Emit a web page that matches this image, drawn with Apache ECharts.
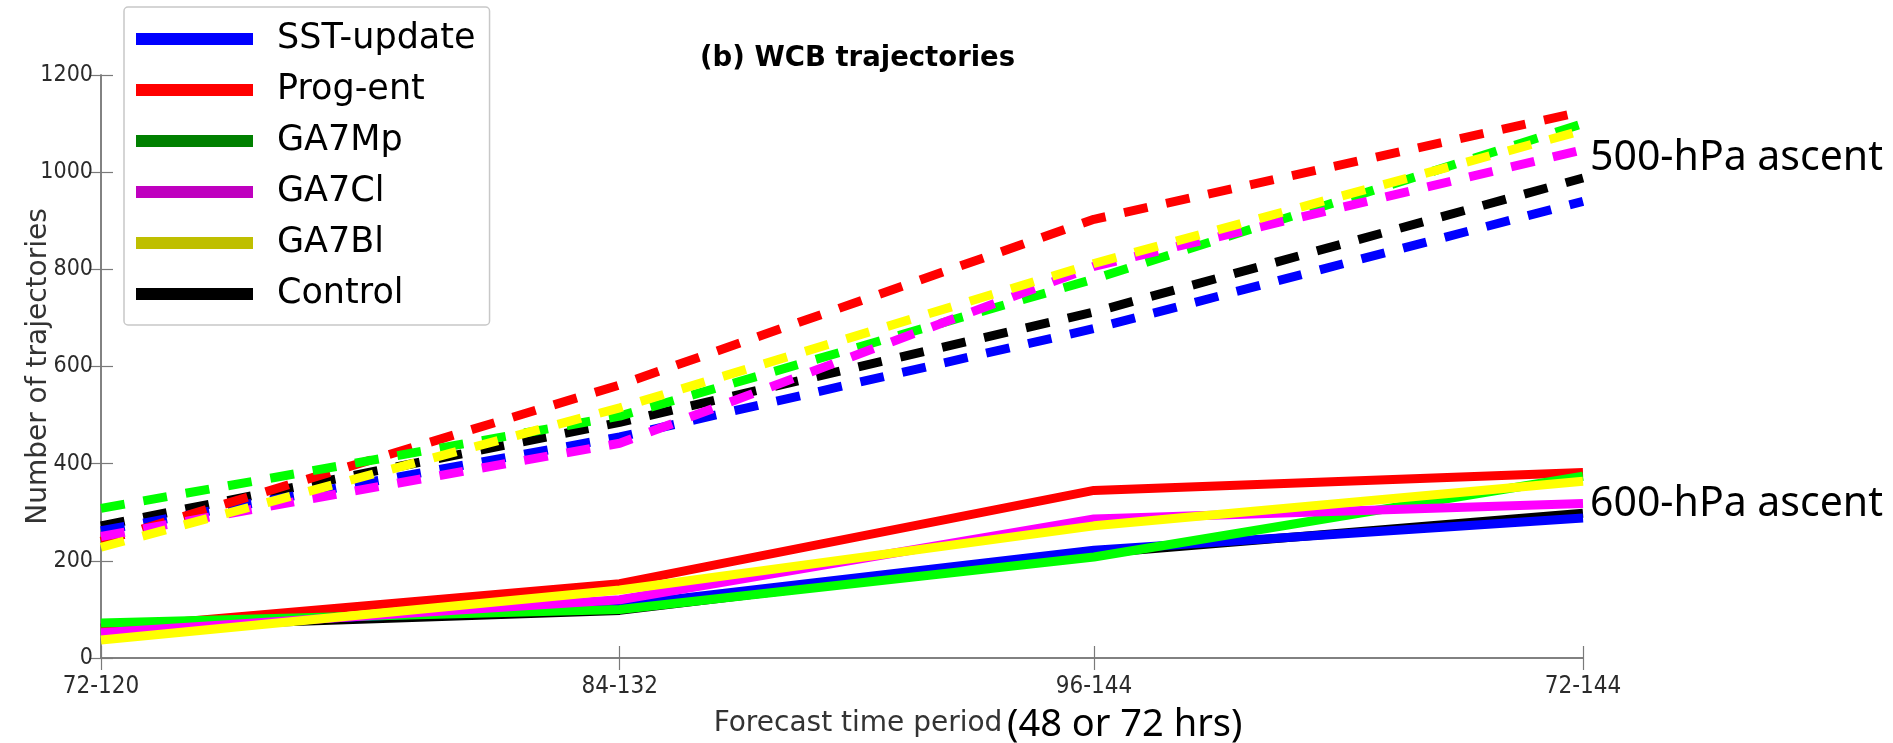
<!DOCTYPE html>
<html>
<head>
<meta charset="utf-8">
<script src="https://cdn.jsdelivr.net/npm/echarts@6/dist/echarts.min.js"></script>
<style>
html,body{margin:0;padding:0;background:#fff;}
#chart{width:1893px;height:743px;}
</style>
</head>
<body>
<div id="chart"></div>
<script>
const categories = ['72-120', '84-132', '96-144', '72-144'];
const xPositions = [0, 1.05, 2.01, 3];
const seriesNames = ['SST-update', 'Prog-ent', 'GA7Mp', 'GA7Cl', 'GA7Bl', 'Control'];
const lineColors = ['#0000FF', '#FF0000', '#00FF00', '#FF00FF', '#FFFF00', '#000000'];
const legendColors = ['#0000FF', '#FF0000', '#008000', '#BF00BF', '#BFBF00', '#000000'];

// 600-hPa ascent (solid)
const sst600 = [62, 108, 222, 288];
const prog600 = [60, 153, 345, 382];
const mp600 = [72, 100, 208, 374];
const cl600 = [52, 120, 286, 318];
const bl600 = [37, 140, 272, 364];
const ctl600 = [62, 98, 215, 298];

// 500-hPa ascent (dashed)
const sst500 = [262, 455, 678, 940];
const prog500 = [240, 562, 903, 1125];
const mp500 = [308, 498, 780, 1100];
const cl500 = [250, 442, 806, 1046];
const bl500 = [228, 515, 812, 1086];
const ctl500 = [272, 485, 712, 988];

const yTicks = [0, 200, 400, 600, 800, 1000, 1200];

const solid = [sst600, prog600, mp600, cl600, bl600, ctl600];
const dashed = [sst500, prog500, mp500, cl500, bl500, ctl500];
const drawOrder = [5, 0, 1, 2, 3, 4];

const toPairs = vals => vals.map((v, j) => [xPositions[j], v]);

const chart = echarts.init(document.getElementById('chart'), null, {renderer: 'canvas'});

const series = [];
drawOrder.forEach((i, k) => {
  series.push({
    name: seriesNames[i], type: 'line', data: toPairs(solid[i]), showSymbol: false, symbol: 'none',
    color: lineColors[i], z: 2 + k,
    lineStyle: {color: lineColors[i], width: 9, type: 'solid'}
  });
});
drawOrder.forEach((i, k) => {
  series.push({
    name: seriesNames[i], type: 'line', data: toPairs(dashed[i]), showSymbol: false, symbol: 'none',
    color: lineColors[i], z: 2 + k,
    lineStyle: {color: lineColors[i], width: 9, type: [24, 19], cap: 'butt'}
  });
});

const tickFont = "'Liberation Sans Narrow', 'DejaVu Sans Condensed', 'DejaVu Sans', sans-serif";
const axisColor = '#7a7a7a';
const catLabel = v => {
  const idx = xPositions.indexOf(v);
  return idx >= 0 ? categories[idx] : '';
};

chart.setOption({
  animation: false,
  backgroundColor: '#ffffff',
  title: {
    text: '(b) WCB trajectories', left: 695, top: 40,
    textStyle: {fontFamily: 'DejaVu Sans', fontWeight: 'bold', fontSize: 27.5, color: '#000'}
  },
  grid: {left: 101, right: 310, top: 75, bottom: 84, containLabel: false},
  legend: {
    orient: 'vertical', left: 124, top: 7, z: 20,
    backgroundColor: '#ffffff', borderColor: '#c8c8c8', borderWidth: 1.5, borderRadius: 4,
    padding: [12, 14, 11, 12],
    itemWidth: 117, itemHeight: 12, itemGap: 11, icon: 'rect',
    textStyle: {fontFamily: 'DejaVu Sans', fontSize: 35, color: '#000', lineHeight: 40, padding: [0, 0, 0, 19]},
    data: seriesNames.map((n, i) => ({name: n, itemStyle: {color: legendColors[i], borderWidth: 0}}))
  },
  xAxis: [{
    type: 'value', min: 0, max: 3, position: 'bottom',
    name: 'Forecast time period', nameLocation: 'middle', nameGap: 52, nameMoveOverlap: false,
    nameTextStyle: {fontFamily: 'DejaVu Sans', fontSize: 28, color: '#333', padding: [0, 0, 0, 32]},
    axisLine: {lineStyle: {color: axisColor, width: 1.5}},
    axisTick: {inside: false, length: -12, customValues: xPositions, lineStyle: {color: axisColor, width: 1.2}},
    axisLabel: {fontFamily: tickFont, fontSize: 24, color: '#2b2b2b', margin: 17,
      customValues: xPositions, formatter: catLabel},
    splitLine: {show: false}
  }, {
    type: 'value', min: 0, max: 3, position: 'top',
    axisLine: {lineStyle: {color: axisColor, width: 1.5}},
    axisTick: {inside: false, length: -12, customValues: xPositions, lineStyle: {color: axisColor, width: 1.2}},
    axisLabel: {show: false}, splitLine: {show: false}
  }],
  yAxis: [{
    type: 'value', min: 0, max: 1200, interval: 200, position: 'left',
    name: 'Number of trajectories', nameLocation: 'middle', nameGap: 48, nameRotate: 90, nameMoveOverlap: false,
    nameTextStyle: {fontFamily: 'DejaVu Sans', fontSize: 28, color: '#333'},
    axisLine: {show: true, lineStyle: {color: axisColor, width: 1.5}},
    axisTick: {show: true, inside: true, length: 12, lineStyle: {color: axisColor, width: 1.2}},
    axisLabel: {fontFamily: tickFont, fontSize: 23, color: '#2b2b2b', margin: 8,
      formatter: v => (yTicks.indexOf(v) >= 0 ? String(v) : '')},
    splitLine: {show: false}
  }, {
    type: 'value', min: 0, max: 1200, interval: 200, position: 'right',
    axisLine: {show: true, lineStyle: {color: axisColor, width: 1.5}},
    axisTick: {show: true, inside: true, length: 12, lineStyle: {color: axisColor, width: 1.2}},
    axisLabel: {show: false}, splitLine: {show: false}
  }],
  graphic: [
    {type: 'text', left: 1590, top: 138, z: 30,
      style: {text: '500-hPa ascent', font: "41px 'Noto Sans'", fill: '#000'}},
    {type: 'text', left: 1590, top: 484, z: 30,
      style: {text: '600-hPa ascent', font: "41px 'Noto Sans'", fill: '#000'}},
    {type: 'text', left: 1007, top: 706, z: 30,
      style: {text: '(48 or 72 hrs)', font: "38px 'Noto Sans'", fill: '#000'}}
  ],
  series: series
});
</script>
</body>
</html>
